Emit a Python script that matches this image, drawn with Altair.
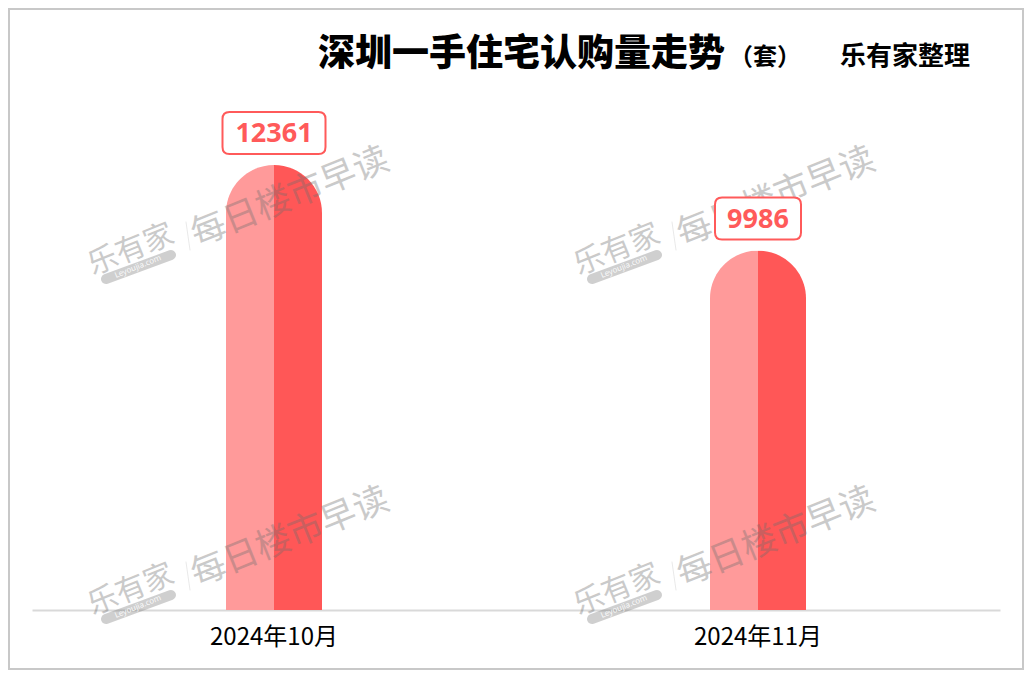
import altair as alt
import pandas as pd

# ---- data ----
months = ["2024年10月", "2024年11月"]
volumes = [12361, 9986]

title_main = "深圳一手住宅认购量走势"
title_unit = "（套）"
title_src = "乐有家整理"

wm_brand = "乐有家"
wm_slogan = "每日楼市早读"
wm_site = "Leyoujia.com"

CJK = "Noto Sans CJK SC"
LIGHT = "#FF9A9A"
DARK = "#FF5757"
LABEL = "#FF5A5A"
WM = "#6E6E6E"

W, H = 968, 510          # plot area
PAD = {"left": 24, "top": 92, "right": 24, "bottom": 60}


def box_path(w, h, r):
    s = w / 2.0
    hx = 1.0
    hy = h / w
    rn = r / s
    return (
        f"M{-hx + rn},{-hy} L{hx - rn},{-hy} Q{hx},{-hy} {hx},{-hy + rn} "
        f"L{hx},{hy - rn} Q{hx},{hy} {hx - rn},{hy} L{-hx + rn},{hy} "
        f"Q{-hx},{hy} {-hx},{hy - rn} L{-hx},{-hy + rn} Q{-hx},{-hy} {-hx + rn},{-hy} Z"
    )


df = pd.DataFrame({"month": months, "volume": volumes})
df["label"] = df["volume"].astype(str)
df["bw"] = 18 + 17 * df["label"].str.len()
df["bsize"] = df["bw"] ** 2
df["bpath"] = [box_path(w, 42, 7) for w in df["bw"]]

x_scale = alt.Scale(paddingInner=0, paddingOuter=0)
x_enc = alt.X(
    "month:N",
    sort=months,
    scale=x_scale,
    axis=alt.Axis(
        title=None, labelAngle=0, ticks=False, grid=False,
        domainColor="#D9D9D9", domainWidth=2,
        labelFont=CJK, labelFontSize=24, labelColor="#000000",
        labelPadding=15,
    ),
)
x_plain = alt.X("month:N", sort=months, scale=x_scale, axis=None)
y_enc = alt.Y("volume:Q", scale=alt.Scale(domain=[0, 14167], nice=False, zero=True), axis=None)

gradient = alt.LinearGradient(
    gradient="linear", x1=0, x2=1, y1=0, y2=0,
    stops=[
        alt.GradientStop(color=LIGHT, offset=0),
        alt.GradientStop(color=LIGHT, offset=0.5),
        alt.GradientStop(color=DARK, offset=0.5),
        alt.GradientStop(color=DARK, offset=1),
    ],
)

base = alt.Chart(df)

bars = base.mark_bar(
    size=96, color=gradient, cornerRadiusTopLeft=48, cornerRadiusTopRight=48
).encode(x=x_enc, y=y_enc)

boxes = base.mark_point(
    filled=False, fill="white", fillOpacity=1, stroke=LABEL, strokeWidth=2,
    opacity=1, yOffset=-32,
).encode(
    x=x_plain,
    y=y_enc,
    shape=alt.Shape("bpath:N", scale=None, legend=None),
    size=alt.Size("bsize:Q", scale=None, legend=None),
)

labels = base.mark_text(
    font="Noto Sans", fontSize=27, fontWeight="bold", color=LABEL,
    baseline="middle", align="center", yOffset=-31,
).encode(
    x=x_plain,
    y=y_enc,
    text="label:N",
)

# ---- title texts (positions relative to plot origin) ----
one = pd.DataFrame({"a": [0]})
t1 = alt.Chart(one).mark_text(
    text=title_main, font=CJK, fontSize=37, fontWeight=900, color="#000000",
    align="left", baseline="middle",
).encode(x=alt.value(286), y=alt.value(-45))
t2 = alt.Chart(one).mark_text(
    text=title_unit, font=CJK, fontSize=24, fontWeight="bold", color="#000000",
    align="left", baseline="middle",
).encode(x=alt.value(697), y=alt.value(-42))
t3 = alt.Chart(one).mark_text(
    text=title_src, font=CJK, fontSize=26, fontWeight="bold", color="#000000",
    align="left", baseline="middle",
).encode(x=alt.value(808), y=alt.value(-43))

border = alt.Chart(one).mark_rect(
    fill=None, stroke="#C8C8C8", strokeWidth=2
).encode(
    x=alt.value(-PAD["left"] + 1), x2=alt.value(W + PAD["right"] - 1),
    y=alt.value(-PAD["top"] + 1), y2=alt.value(H + PAD["bottom"] - 1),
)

# ---- watermarks (layout, pixel positions in plot coordinates) ----
wm_text_rows = []
wm_rule_rows = []
wm_site_rows = []
for dx in (0, 486):
    for dy in (0, 340):
        wm_text_rows.append({"px": 258 + dx, "py": 97 + dy, "t": wm_slogan, "fs": 35})
        wm_text_rows.append({"px": 99 + dx, "py": 150 + dy, "t": wm_brand, "fs": 30})
        wm_rule_rows.append({"x1": 74 + dx, "y1": 179 + dy, "x2": 139 + dx, "y2": 155 + dy,
                             "sw": 10, "op": 0.33})
        wm_rule_rows.append({"x1": 154 + dx, "y1": 122 + dy, "x2": 158 + dx, "y2": 150 + dy,
                             "sw": 1, "op": 0.15})
        wm_site_rows.append({"px": 106 + dx, "py": 167 + dy, "t": wm_site})
wm_t = pd.DataFrame(wm_text_rows)
wm_r = pd.DataFrame(wm_rule_rows)
wm_s = pd.DataFrame(wm_site_rows)

wm_text = alt.Chart(wm_t).mark_text(
    font=CJK, color=WM, opacity=0.36, angle=338, align="center", baseline="middle",
).encode(
    x=alt.X("px:Q", scale=None, axis=None),
    y=alt.Y("py:Q", scale=None, axis=None),
    text="t:N",
    size=alt.Size("fs:Q", scale=None, legend=None),
)
wm_rule = alt.Chart(wm_r).mark_rule(
    color=WM, strokeCap="round",
).encode(
    x=alt.X("x1:Q", scale=None, axis=None),
    x2="x2:Q",
    y=alt.Y("y1:Q", scale=None, axis=None),
    y2="y2:Q",
    strokeWidth=alt.StrokeWidth("sw:Q", scale=None, legend=None),
    opacity=alt.Opacity("op:Q", scale=None, legend=None),
)
wm_site_t = alt.Chart(wm_s).mark_text(
    font="Noto Sans", fontSize=8, color="white", opacity=0.9, angle=338,
    align="center", baseline="middle",
).encode(
    x=alt.X("px:Q", scale=None, axis=None),
    y=alt.Y("py:Q", scale=None, axis=None),
    text="t:N",
)

chart = (
    alt.layer(border, t1, t2, t3, bars, wm_text, wm_rule, wm_site_t, boxes, labels)
    .resolve_scale(x="independent", y="independent", size="independent",
                   shape="independent", strokeWidth="independent", opacity="independent")
    .properties(width=W, height=H, padding=PAD, autosize=alt.AutoSizeParams(type="none"),
                background="white")
    .configure_view(stroke=None)
)

chart.save("out.html", embed_options={"renderer": "svg", "actions": False})
